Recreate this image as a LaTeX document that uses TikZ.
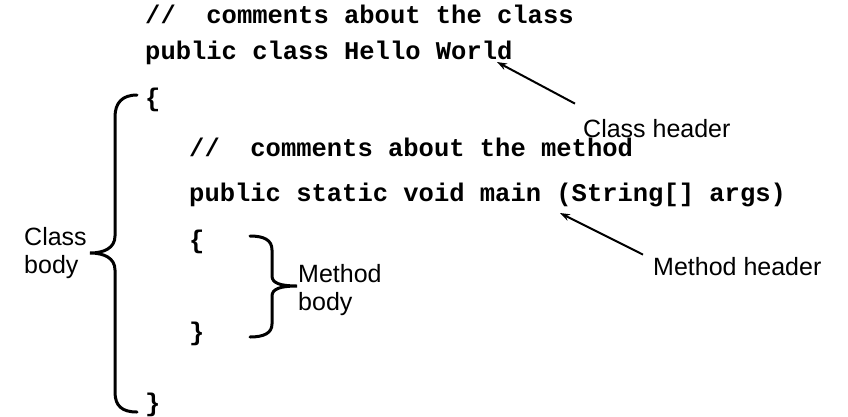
\documentclass[tikz,border=0pt]{standalone}
\usepackage{fontspec}
\setmainfont{Liberation Sans}
\setmonofont{Liberation Mono}
\usetikzlibrary{arrows.meta}

\tikzset{
  code/.style={anchor=base west, inner sep=0pt, font=\ttfamily\bfseries\fontsize{25.5}{25.5}\selectfont},
  lbl/.style={anchor=west, inner sep=0pt, align=left, font=\fontsize{25}{28}\selectfont},
  brc/.style={line width=3pt, line cap=round},
  arr/.style={-{Stealth[length=10pt,width=7pt]}, line width=2pt}
}

\begin{document}
\begin{tikzpicture}[x=1pt,y=-1pt]
\useasboundingbox (0,0) rectangle (848,416);
% code lines
\node[code] (cmtcls) at (145,23) {//~~comments about the class};
\node[code] (clshdr) at (145,59) {public class Hello World};
\node[code] (clsopen) at (145,106) {\{};
\node[code] (cmtmet) at (189,156) {//~~comments about the method};
\node[code] (methdr) at (189,201) {public static void main (String[] args)};
\node[code] (metopen) at (189,248) {\{};
\node[code] (metclose) at (189,340) {\}};
\node[code] (clsclose) at (145,411) {\}};
% labels
\node[lbl] (clshead) at (583,129) {Class header};
\node[lbl] (methead) at (653,267) {Method header};
\node[lbl] (clsbody) at (24,253) {Class\\body};
\node[lbl] (metbody) at (298,290) {Method\\body};
% arrows
\coordinate (clstip) at (497,62);
\coordinate (mettip) at (560,213);
\draw[arr] (clshead.north west) ++(-8,-16) coordinate (clstail) (clstail) -- (clstip);
\draw[arr] (methead.north west) ++(-10,-3) coordinate (mettail) (mettail) -- (mettip);
% braces
\draw[brc] (137,95) .. controls (122,95) and (115,103) .. (115,117) -- (115,236) .. controls (115,248) and (104,253) .. (90,253) .. controls (104,253) and (115,258) .. (115,270) -- (115,392) .. controls (115,406) and (122,412) .. (137,412);
\draw[brc] (250,236) .. controls (264,236) and (272,240) .. (272,250) -- (272,276) .. controls (272,283) and (280,286) .. (297,286) .. controls (280,286) and (272,289) .. (272,296) -- (272,324) .. controls (272,333) and (264,337) .. (250,337);
\end{tikzpicture}
\end{document}
